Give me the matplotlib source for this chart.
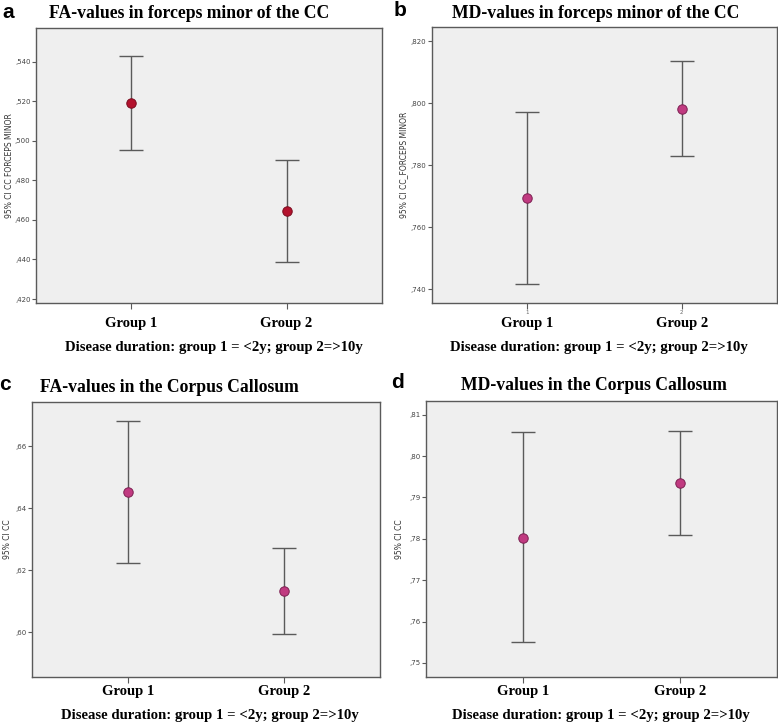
import matplotlib
matplotlib.use("Agg")
import matplotlib.pyplot as plt
import matplotlib.transforms as mtransforms
import numpy as np

W, H = 778, 723
DPI = 100

groups = ["Group 1", "Group 2"]
xlabel = "Disease duration: group 1 = <2y; group 2=>10y"

titles = ["FA-values in forceps minor of the CC",
          "MD-values in forceps minor of the CC",
          "FA-values in the Corpus Callosum",
          "MD-values in the Corpus Callosum"]
letters = ["a", "b", "c", "d"]
ylabels = ["95% CI CC FORCEPS MINOR", "95% CI CC_FORCEPS MINOR",
           "95% CI CC", "95% CI CC"]

# means, lower CI, upper CI
fa_fm_mean = [0.519, 0.4645]
fa_fm_low = [0.4953, 0.4388]
fa_fm_high = [0.5427, 0.4905]

md_fm_mean = [0.7695, 0.7983]
md_fm_low = [0.7417, 0.7831]
md_fm_high = [0.7972, 0.8135]

fa_cc_mean = [0.6453, 0.6133]
fa_cc_low = [0.6224, 0.5995]
fa_cc_high = [0.6682, 0.6272]

md_cc_mean = [0.7803, 0.7935]
md_cc_low = [0.7550, 0.7810]
md_cc_high = [0.8057, 0.8060]

yticks_a = [0.420, 0.440, 0.460, 0.480, 0.500, 0.520, 0.540]
yticks_b = [0.740, 0.760, 0.780, 0.800, 0.820]
yticks_c = [0.60, 0.62, 0.64, 0.66]
yticks_d = [0.75, 0.76, 0.77, 0.78, 0.79, 0.80, 0.81]

panels = [
    dict(mean=fa_fm_mean, low=fa_fm_low, high=fa_fm_high, ticks=yticks_a, fmt="{:.3f}",
         ylim=(0.418, 0.557), box=(36, 28, 382, 303), color="#b3122d", edge="#7a0c1f",
         title_xy=(189, 13), letter_xy=(8, 12), group_y=323, xlab_xy=(214, 347), ylab_x=10, small_ticks=False),
    dict(mean=md_fm_mean, low=md_fm_low, high=md_fm_high, ticks=yticks_b, fmt="{:.3f}",
         ylim=(0.7356, 0.8246), box=(432, 27, 777, 303), color="#c03a80", edge="#7d2052",
         title_xy=(596, 13), letter_xy=(400, 11), group_y=323, xlab_xy=(599, 347), ylab_x=404, small_ticks=True),
    dict(mean=fa_cc_mean, low=fa_cc_low, high=fa_cc_high, ticks=yticks_c, fmt="{:.2f}",
         ylim=(0.5856, 0.6743), box=(32, 402, 380, 677), color="#c03a80", edge="#7d2052",
         title_xy=(169, 388), letter_xy=(5, 385), group_y=692, xlab_xy=(210, 715), ylab_x=7, small_ticks=False),
    dict(mean=md_cc_mean, low=md_cc_low, high=md_cc_high, ticks=yticks_d, fmt="{:.2f}",
         ylim=(0.7466, 0.8133), box=(426, 401, 777, 677), color="#c03a80", edge="#7d2052",
         title_xy=(594, 385), letter_xy=(398, 383), group_y=692, xlab_xy=(601, 715), ylab_x=400, small_ticks=False),
]

fig = plt.figure(figsize=(W / DPI, H / DPI), dpi=DPI)
fig.patch.set_facecolor("white")


def fx(px):
    return px / W


def fy(py):
    return 1 - py / H


serif_bold = dict(family="Liberation Serif", weight="bold")
group_font = dict(family="Liberation Serif", weight="bold")

for i, p in enumerate(panels):
    x0, y0, x1, y1 = p["box"]
    ax = fig.add_axes([fx(x0), fy(y1), (x1 - x0) / W, (y1 - y0) / H])
    ax.set_facecolor("#efefef")
    for s in ax.spines.values():
        s.set_color("#5a5a5a")
        s.set_linewidth(1.0)
    xs = np.arange(1, len(groups) + 1)
    mean = np.array(p["mean"])
    low = np.array(p["low"])
    high = np.array(p["high"])
    ax.errorbar(xs, mean, yerr=[mean - low, high - mean], fmt="none",
                ecolor="#5a5a5a", elinewidth=1.0, capsize=8.5, capthick=1.0, zorder=2)
    ax.plot(xs, mean, "o", ms=6.8, mfc=p["color"], mec=p["edge"], mew=0.7, zorder=3)
    ax.set_xlim(0.385, 2.615)
    ax.set_ylim(*p["ylim"])
    ax.set_yticks(p["ticks"])
    ax.set_yticklabels([p["fmt"].format(t).replace("0.", ",", 1) for t in p["ticks"]],
                       fontsize=5, color="#444444", family="DejaVu Sans")
    ax.tick_params(axis="y", length=3, width=0.8, color="#5a5a5a", pad=1)
    ax.set_xticks(xs)
    ax.tick_params(axis="x", length=4, width=0.8, color="#5a5a5a")
    if p["small_ticks"]:
        ax.set_xticklabels(["1", "2"], fontsize=4, color="#666666")
        ax.tick_params(axis="x", pad=1)
    else:
        ax.set_xticklabels([])
    trans = mtransforms.blended_transform_factory(ax.transData, fig.transFigure)
    for xv, g in zip(xs, groups):
        ax.text(xv, fy(p["group_y"]), g, transform=trans, ha="center", va="center",
                fontsize=10.5, **group_font, clip_on=False)
    fig.text(fx(p["xlab_xy"][0]), fy(p["xlab_xy"][1]), xlabel, ha="center", va="center",
             fontsize=10.6, **group_font)
    fig.text(fx(p["title_xy"][0]), fy(p["title_xy"][1]), titles[i], ha="center", va="center",
             fontsize=12.7, **serif_bold)
    fig.text(fx(p["letter_xy"][0]), fy(p["letter_xy"][1]), letters[i], ha="center", va="center",
             fontsize=15, weight="bold", family="Liberation Sans")
    fig.text(fx(p["ylab_x"]), fy((y0 + y1) / 2), ylabels[i], ha="center", va="center",
             rotation=90, fontsize=5.5, color="#333333", family="DejaVu Sans")

fig.savefig("out.png", dpi=DPI)
